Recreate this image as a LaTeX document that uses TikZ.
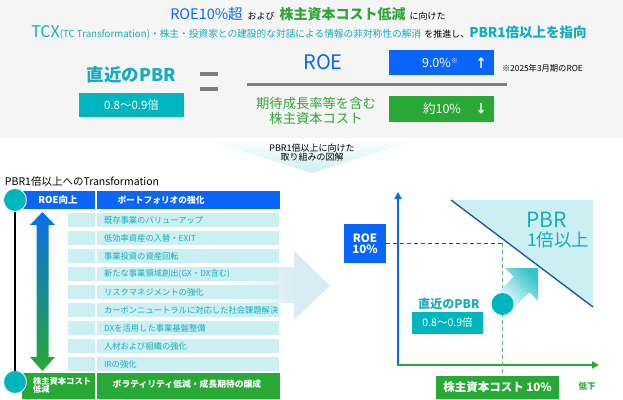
\documentclass[tikz,border=0pt]{standalone}
\usepackage{fontspec}
\setmainfont{Noto Sans CJK JP}
\usetikzlibrary{arrows.meta}
\definecolor{tblue}{RGB}{10,102,250}
\definecolor{tteal}{RGB}{0,182,190}
\definecolor{ttealtxt}{RGB}{20,172,190}
\definecolor{tgreen}{RGB}{40,168,52}
\definecolor{tgreentxt}{RGB}{48,165,55}
\definecolor{lcyan}{RGB}{204,239,241}
\definecolor{bandgray}{RGB}{245,245,245}
\definecolor{alight}{RGB}{216,236,243}
\definecolor{dline}{RGB}{25,80,165}
\definecolor{fgray}{RGB}{125,125,125}
\newcommand{\fs}[1]{\fontsize{#1}{#1}\selectfont}
\tikzset{
  txt/.style={inner sep=0pt, outer sep=0pt},
  rowtxt/.style={txt, anchor=west, text=ttealtxt, font=\fs{8.3}},
  whitebold/.style={txt, text=white, font=\bfseries},
}
\begin{document}
\begin{tikzpicture}[x=1pt,y=-1pt]
\useasboundingbox (0,0) rectangle (623,399);
% top band
\fill[bandgray] (0,0) rectangle (623,138);
% headline
\node[txt, anchor=base] (head1) at (308,19) {{\fs{14.5}\color{tblue}ROE10\%超}\hspace{5pt}{\fs{9}\color{black}および}\hspace{5pt}{\fs{14}\bfseries\color{tgreentxt}株主資本コスト低減}\hspace{4pt}{\fs{9}\color{black}に向けた}};
\node[txt, anchor=base] (head2) at (309,37) {{\fs{16}\color{ttealtxt}TCX}{\fs{9.7}\color{ttealtxt}(TC Transformation)・株主・投資家との建設的な対話による情報の非対称性の解消}\hspace{3pt}{\fs{9}\color{black}を推進し、}{\fs{13.5}\bfseries\color{ttealtxt}PBR1倍以上を指向}};
% formula
\node[txt, text=ttealtxt, font=\fs{17.5}\bfseries] (pbrnow) at (131.5,75) {直近のPBR};
\node[txt, fill=tteal, minimum width=105pt, minimum height=24.5pt, text=white, font=\fs{11.5}] (pbrbox) at (131.5,105) {0.8～0.9倍};
\fill[fgray] (200,71.5) rectangle (218,75.5);
\fill[fgray] (200,86.5) rectangle (218,90.5);
\node[txt, text=tblue, font=\fs{20}] (roe) at (323,62) {ROE};
\fill[fgray] (247,82.5) rectangle (507,85.5);
\node[txt, text=tgreentxt, font=\fs{13.3}, align=center] (coe) at (316,111) {期待成長率等を含む\\[1pt]株主資本コスト};
\node[txt, fill=tblue, minimum width=105pt, minimum height=25pt] (roebox) at (441.5,62.5) {};
\node[txt, text=white, font=\fs{12.5}] (roeval) at (440,62.5) {9.0\%\raisebox{4pt}{\fs{7}※}};
\node[txt, text=white, font=\fs{12}\bfseries] (roeup) at (481,62.5) {↑};
\node[txt, anchor=west, font=\fs{8.3}] (note) at (502,68) {※2025年3月期のROE};
\node[txt, fill=tgreen, minimum width=105pt, minimum height=26pt] (coebox) at (441.5,108.5) {};
\node[txt, text=white, font=\fs{12.5}] (coeval) at (442,108.5) {約10\%};
\node[txt, text=white, font=\fs{12}\bfseries] (coedown) at (481,108.5) {↓};
% callout
\shade[top color=white, bottom color=lcyan] (200,138) -- (423,138) -- (312,173) -- cycle;
\node[txt, font=\fs{9}, align=center] (callout) at (312,153) {PBR1倍以上に向けた\\取り組みの図解};
% big light arrow
\shade[left color=white, right color=alight] (225,267) rectangle (295,302);
\fill[alight] (294,251) -- (330,285.5) -- (294,320) -- cycle;
% left section
\node[txt, anchor=west, font=\fs{10.5}] (ltitle) at (5,182) {PBR1倍以上へのTransformation};
\fill[tblue] (22,191) rectangle (280,208.5);
\fill[white] (95,191) rectangle (97,208.5);
\node[whitebold, font=\fs{9.5}\bfseries] (roeup2) at (58,200) {ROE向上};
\node[whitebold, font=\fs{8.7}\bfseries] (portfolio) at (161,200) {ポートフォリオの強化};
\foreach \t [count=\i from 0] in {既存事業のバリューアップ,低効率資産の入替・EXIT,事業投資の資産回転,新たな事業領域創出(GX・DX含む),リスクマネジメントの強化,カーボンニュートラルに対応した社会課題解決,DXを活用した事業基盤整備,人材および組織の強化,IRの強化}{
  \fill[lcyan] (68,213.3+18*\i) rectangle (94.5,227.3+18*\i);
  \fill[lcyan] (97,213.3+18*\i) rectangle (279,227.3+18*\i);
  \node[rowtxt] (rowtext\i) at (104,220.3+18*\i) {\t};
}
\fill[tgreen] (22,373) rectangle (280,399);
\fill[white] (95,373) rectangle (97,399);
\node[whitebold, font=\fs{8.3}\bfseries, anchor=west, align=left] (coelow) at (33,385.5) {株主資本コスト\\低減};
\node[whitebold, font=\fs{8.8}\bfseries] (vol) at (187,384) {ボラティリティ低減・成長期待の醸成};
\shade[top color={rgb,255:red,10;green,110;blue,235}, bottom color=tgreen] (42.5,212) -- (55,225) -- (48.5,225) -- (48.5,357) -- (55,357) -- (42.5,371) -- (30,357) -- (36.5,357) -- (36.5,225) -- (30,225) -- cycle;
\node[txt, circle, fill=tteal, draw=white, line width=0.8pt, minimum size=23pt] (ctop) at (15,200) {};
\node[txt, circle, fill=tteal, draw=white, line width=0.8pt, minimum size=23pt] (cbot) at (15,382) {};
\draw[black, line width=1.3pt] (ctop) -- (cbot);
% chart
\fill[lcyan] (451,200) -- (593,200) -- (593,307) -- cycle;
\draw[dline, line width=1.3pt] (451,200) -- (593,307);
\node[txt, anchor=west, text=ttealtxt, font=\fs{21}] (pbrbig) at (526,220) {PBR};
\node[txt, anchor=west, text=ttealtxt, font=\fs{17.5}] (pbr1) at (527,240) {1倍以上};
\coordinate (ytip) at (398,192);
\coordinate (xtip) at (599,365);
\draw[tblue, line width=2.2pt, -{Triangle[length=7pt,width=7pt]}] (398,366) -- (ytip);
\draw[tgreen, line width=2pt, -{Triangle[length=7pt,width=7pt]}] (397,365) -- (xtip);
\node[txt, fill=tblue, minimum width=42pt, minimum height=39pt, text=white, font=\fs{11.5}\bfseries, align=center] (roe10) at (365,243.5) {ROE\\10\%};
\coordinate (cross) at (502.5,243);
\draw[dline, line width=1pt, dash pattern=on 4pt off 3pt] (roe10.east |- cross) -- (cross);
\node[txt, fill=tgreen, minimum width=123pt, minimum height=23pt, text=white, font=\fs{11.5}\bfseries] (coe10) at (497.5,387.5) {株主資本コスト 10\%};
\draw[tgreen!80!white, line width=1pt, dash pattern=on 4pt off 3pt] (cross) -- (cross |- coe10.north);
\shade[top color=tteal!80!white, bottom color=white, shading angle=-45] (538,268) -- (538,301) -- (529.3,292.3) -- (511.8,309.7) -- (496.3,294.2) -- (513.7,276.7) -- (505,268) -- cycle;
\node[txt, circle, fill=tteal, minimum size=22pt] (cnow) at (502.5,304) {};
\node[txt, text=ttealtxt, font=\fs{12}\bfseries] (pbrnow2) at (449,303.5) {直近のPBR};
\node[txt, fill=tteal, minimum width=71pt, minimum height=22pt, text=white, font=\fs{10.5}] (pbrbox2) at (447.5,323) {0.8～0.9倍};
\node[txt, text=tgreentxt, font=\fs{8.5}\bfseries] (down) at (587,386) {低下};
\end{tikzpicture}
\end{document}
